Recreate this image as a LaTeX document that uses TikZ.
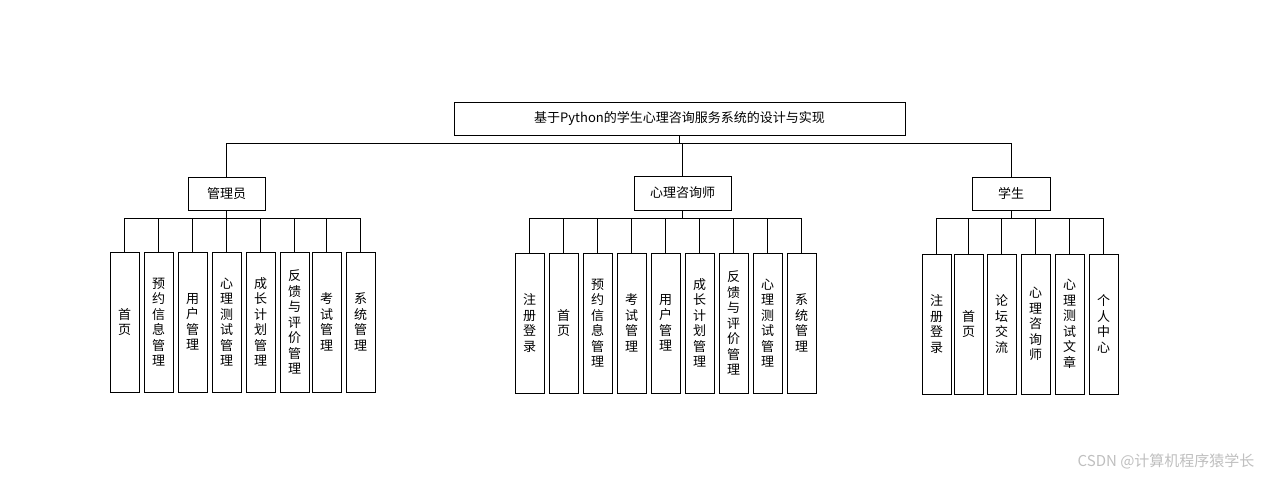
\documentclass[tikz,border=0pt]{standalone}
\usepackage{fontspec}
\setmainfont{Noto Sans CJK SC}
\begin{document}
\begin{tikzpicture}[x=1pt,y=-1pt,
  box/.style={draw,thick,inner sep=0pt,font=\fontsize{13}{15}\selectfont},
  leaf/.style={draw,thick,inner sep=0pt,minimum width=29pt,minimum height=140pt,align=center,font=\fontsize{13}{15.5}\selectfont},
  conn/.style={thick}]
\useasboundingbox (0,0) rectangle (1263,482);
\node[box,minimum width=451pt,minimum height=33pt] (root) at (679.5,118.5) {基于Python的学生心理咨询服务系统的设计与实现};
\node[box,minimum width=77pt,minimum height=33pt] (a) at (226.5,193.5) {管理员};
\node[box,minimum width=97pt,minimum height=34pt] (b) at (682.5,193) {心理咨询师};
\node[box,minimum width=78pt,minimum height=33pt] (c) at (1011,193.5) {学生};
\coordinate (top) at (0,143);
\draw[conn] (root.south) -- (root.south |- top);
\draw[conn] (a.north) -- (a.north |- top) -- (c.north |- top) -- (c.north);
\draw[conn] (b.north) -- (b.north |- top);
% admin leaves
\foreach \x/\t [count=\i] in {124.5/首\\页, 158.5/预\\约\\信\\息\\管\\理, 192.5/用\\户\\管\\理, 226.5/心\\理\\测\\试\\管\\理, 260.5/成\\长\\计\\划\\管\\理, 294.5/反\\馈\\与\\评\\价\\管\\理, 326.5/考\\试\\管\\理, 360.5/系\\统\\管\\理}{
  \node[leaf] (a\i) at (\x,322) {\t};
  \draw[conn] (a.south) -- ++(0,8) -| (a\i.north);
}
\foreach \x/\t [count=\i] in {529.5/注\\册\\登\\录, 563.5/首\\页, 597.5/预\\约\\信\\息\\管\\理, 631.5/考\\试\\管\\理, 665.5/用\\户\\管\\理, 699.5/成\\长\\计\\划\\管\\理, 733.5/反\\馈\\与\\评\\价\\管\\理, 767.5/心\\理\\测\\试\\管\\理, 801.5/系\\统\\管\\理}{
  \node[leaf] (b\i) at (\x,323) {\t};
  \draw[conn] (b.south) -- ++(0,8) -| (b\i.north);
}
\foreach \x/\t [count=\i] in {936.5/注\\册\\登\\录, 968.5/首\\页, 1001.5/论\\坛\\交\\流, 1035.5/心\\理\\咨\\询\\师, 1069.5/心\\理\\测\\试\\文\\章, 1103.5/个\\人\\中\\心}{
  \node[leaf] (c\i) at (\x,324) {\t};
  \draw[conn] (c.south) -- ++(0,8) -| (c\i.north);
}
\node[text=black!25,font=\fontsize{15}{17}\selectfont,anchor=east] (wm) at (1258,461) {CSDN @计算机程序猿学长};
\end{tikzpicture}
\end{document}
